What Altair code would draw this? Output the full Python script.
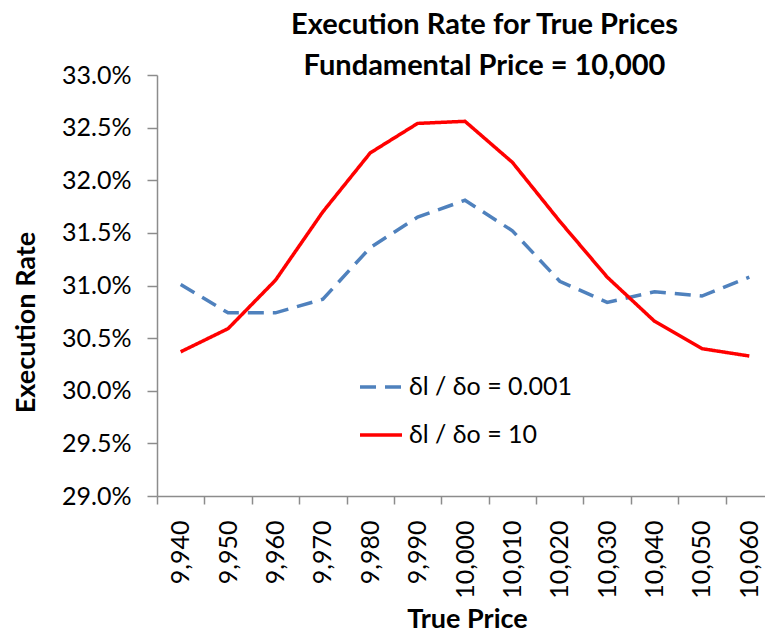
import altair as alt
import pandas as pd

prices = ["9,940", "9,950", "9,960", "9,970", "9,980", "9,990", "10,000",
          "10,010", "10,020", "10,030", "10,040", "10,050", "10,060"]
series_names = ["δl / δo = 0.001", "δl / δo = 10"]
rate_low = [31.01, 30.74, 30.74, 30.87, 31.36, 31.65, 31.81,
            31.52, 31.04, 30.84, 30.94, 30.90, 31.08]
rate_high = [30.37, 30.59, 31.05, 31.70, 32.26, 32.54, 32.56,
             32.17, 31.61, 31.08, 30.66, 30.40, 30.33]
y_ticks = [29.0, 29.5, 30.0, 30.5, 31.0, 31.5, 32.0, 32.5, 33.0]

rows = []
for p, v in zip(prices, rate_low):
    rows.append({"price": p, "series": series_names[0], "rate": v / 100})
for p, v in zip(prices, rate_high):
    rows.append({"price": p, "series": series_names[1], "rate": v / 100})
df = pd.DataFrame(rows)

FONT = "Lato"
AXIS_GRAY = "#8C8C8C"

legend_opts = dict(title=None, orient="none", legendX=201, legendY=289,
                   symbolType="stroke", symbolSize=1764, symbolStrokeWidth=3.5,
                   labelFontSize=25, labelOffset=5, rowPadding=12, padding=0,
                   labelLimit=400)

chart = alt.Chart(df).mark_line().encode(
    x=alt.X("price:N", sort=prices,
            scale=alt.Scale(paddingInner=0, paddingOuter=0, range=[0, 616]),
            axis=alt.Axis(title="True Price", labelAngle=-90, tickBand="extent",
                          tickSize=8, labelPadding=16, titlePadding=8,
                          titleX=310,
                          labelFontSize=25, titleFontSize=27)),
    y=alt.Y("rate:Q",
            scale=alt.Scale(domain=[0.29, 0.33], nice=False, zero=False),
            axis=alt.Axis(title="Execution Rate", format=".1%",
                          values=[t / 100 for t in y_ticks],
                          tickSize=10, labelPadding=16, titlePadding=21,
                          titleY=247,
                          labelFontSize=25, titleFontSize=27)),
    color=alt.Color("series:N",
                    scale=alt.Scale(domain=series_names, range=["#4F81BD", "#FF0000"]),
                    legend=alt.Legend(**legend_opts)),
    strokeDash=alt.StrokeDash("series:N",
                              scale=alt.Scale(domain=series_names, range=[[16, 9], [1, 0]]),
                              legend=alt.Legend(**legend_opts)),
).properties(
    width=608,
    height=421,
    padding={"left": 149, "top": 67, "right": 0, "bottom": 137},
    autosize=alt.AutoSizeParams(type="none"),
    title=alt.TitleParams(
        text=["Execution Rate for True Prices", "Fundamental Price = 10,000"],
        fontSize=29, font=FONT, fontWeight="bold", color="black",
        lineHeight=41, baseline="alphabetic", offset=-41, dx=23.5, anchor="middle"),
).configure_mark(
    strokeWidth=3.5
).configure_view(
    stroke=None
).configure_axis(
    labelFont=FONT, titleFont=FONT, labelColor="black", titleColor="black",
    titleFontWeight="bold", domainColor=AXIS_GRAY, tickColor=AXIS_GRAY,
    domainWidth=1.5, tickWidth=1.5, grid=False
).configure_legend(
    labelFont=FONT, labelColor="black"
)

chart.save("out.html", embed_options={"renderer": "svg", "actions": False})
